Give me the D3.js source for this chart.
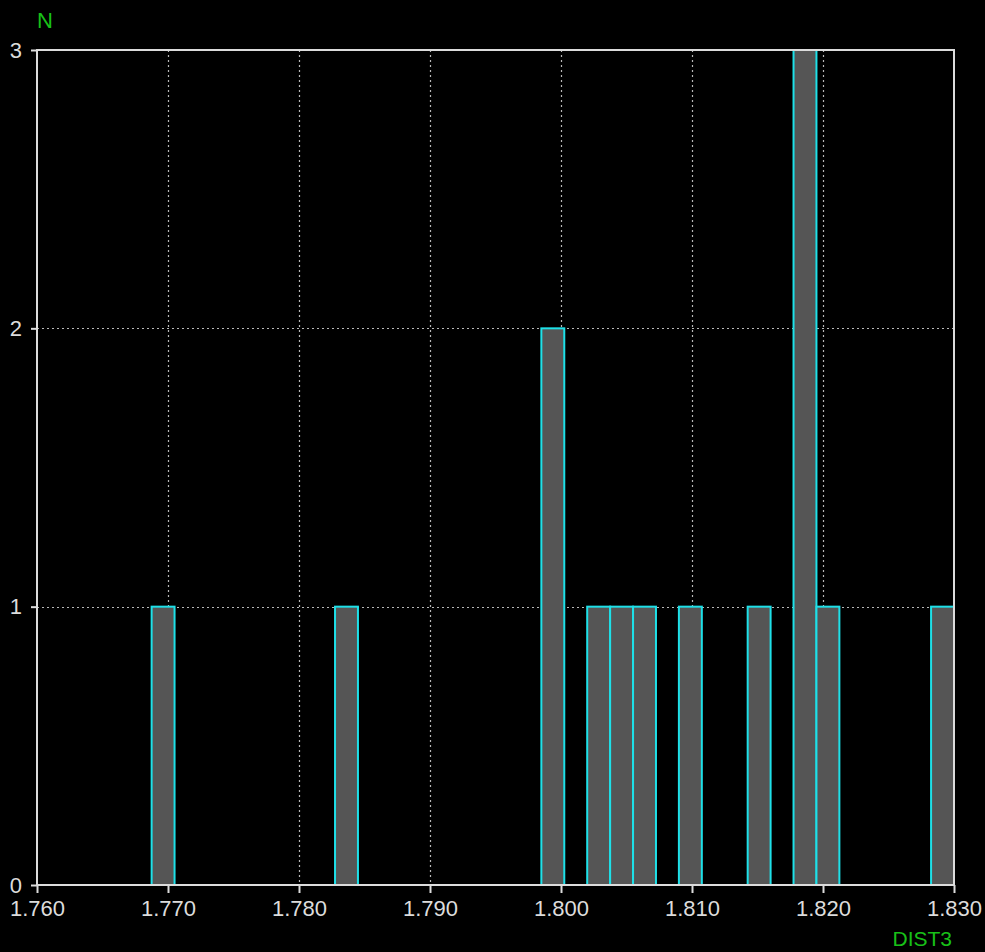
<!DOCTYPE html>
<html>
<head>
<meta charset="utf-8">
<script src="https://cdn.jsdelivr.net/npm/d3@7"></script>
<style>
  html, body { margin: 0; padding: 0; background: #000; }
  svg { display: block; }
  text { font-family: "Liberation Sans", Arial, sans-serif; }
</style>
</head>
<body>
<svg id="chart" width="985" height="952"></svg>
<script>
// Histogram of DIST3: left edge of each occupied bin and its count
const binWidth = 0.00175;
const binStarts = [1.76875, 1.78275, 1.7985, 1.802, 1.80375, 1.8055, 1.809, 1.81425, 1.81775, 1.8195, 1.82825];
const counts    = [1, 1, 2, 1, 1, 1, 1, 1, 3, 1, 1];
const xTicks = [1.760, 1.770, 1.780, 1.790, 1.800, 1.810, 1.820, 1.830];
const yTicks = [0, 1, 2, 3];
const xTitle = "DIST3";
const yTitle = "N";

const svg = d3.select("#chart");
const W = 985, H = 952;
const m = { left: 37, right: 31, top: 50, bottom: 67 };

svg.append("rect").attr("width", W).attr("height", H).attr("fill", "#000");

const x = d3.scaleLinear().domain([1.760, 1.830]).range([m.left, W - m.right]);
const y = d3.scaleLinear().domain([0, 3]).range([H - m.bottom, m.top]);

const axisColor = "#dcdcdc";
const gridColor = "#b8b8b8";

// dotted grid lines
svg.append("g").selectAll("line.vg")
  .data(xTicks.slice(1, -1)).join("line")
  .attr("x1", d => Math.round(x(d)) + 0.5).attr("x2", d => Math.round(x(d)) + 0.5)
  .attr("y1", y(3)).attr("y2", y(0))
  .attr("stroke", gridColor).attr("stroke-width", 1.2).attr("stroke-dasharray", "2,3");

svg.append("g").selectAll("line.hg")
  .data(yTicks.slice(1, -1)).join("line")
  .attr("x1", x(1.760)).attr("x2", x(1.830))
  .attr("y1", d => Math.round(y(d)) + 0.5).attr("y2", d => Math.round(y(d)) + 0.5)
  .attr("stroke", gridColor).attr("stroke-width", 1.2).attr("stroke-dasharray", "2,3");

// bars
svg.append("g").selectAll("rect")
  .data(binStarts.map((s, i) => ({ s, n: counts[i] })))
  .join("rect")
  .attr("x", d => x(d.s))
  .attr("width", d => x(d.s + binWidth) - x(d.s))
  .attr("y", d => y(d.n))
  .attr("height", d => y(0) - y(d.n))
  .attr("fill", "#555555")
  .attr("stroke", "#1ee0e8")
  .attr("stroke-width", 2);

// frame
svg.append("rect")
  .attr("x", x(1.760)).attr("y", y(3))
  .attr("width", x(1.830) - x(1.760)).attr("height", y(0) - y(3))
  .attr("fill", "none").attr("stroke", axisColor).attr("stroke-width", 2);

// axes
const xAxis = d3.axisBottom(x).tickValues(xTicks).tickFormat(d3.format(".3f")).tickSize(8).tickPadding(7);
const gx = svg.append("g").attr("transform", `translate(0,${y(0)})`).call(xAxis);
gx.select(".domain").remove();
gx.selectAll(".tick line").attr("stroke", axisColor).attr("stroke-width", 2);
gx.selectAll(".tick text").attr("fill", axisColor).attr("font-size", 22)
  .attr("font-family", "Liberation Sans, Arial, sans-serif");

const yAxis = d3.axisLeft(y).tickValues(yTicks).tickFormat(d3.format("d")).tickSize(6).tickPadding(9);
const gy = svg.append("g").attr("transform", `translate(${x(1.760)},0)`).call(yAxis);
gy.select(".domain").remove();
gy.selectAll(".tick line").attr("stroke", axisColor).attr("stroke-width", 2);
gy.selectAll(".tick text").attr("fill", axisColor).attr("font-size", 22)
  .attr("font-family", "Liberation Sans, Arial, sans-serif");

// axis titles
svg.append("text").attr("x", 37).attr("y", 28)
  .attr("fill", "#18c018").attr("font-size", 22).text(yTitle);
svg.append("text").attr("x", 952).attr("y", 946).attr("text-anchor", "end")
  .attr("fill", "#18c018").attr("font-size", 21).text(xTitle);
</script>
</body>
</html>
